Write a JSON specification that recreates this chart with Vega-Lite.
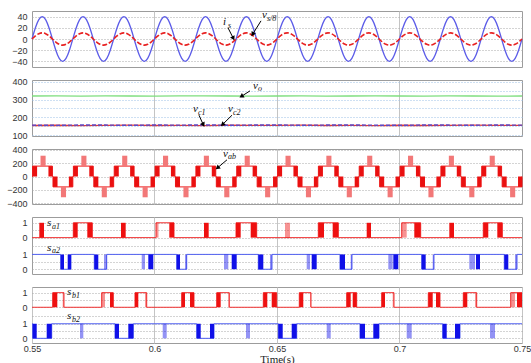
{
"$schema":"https://vega.github.io/schema/vega-lite/v6.json",
"padding":{"left":4,"top":8,"right":5,"bottom":0},
"spacing":13,
"bounds":"flush",
"config":{"view":{"stroke":"#9c9c9c","strokeWidth":1},"axis":{"labelFont":"Liberation Sans","labelFontSize":9,"labelColor":"#333333","labelOverlap":false}},
"datasets":{
"ac":[
{"t":0.55,"v":0,"i":0},{"t":0.55139,"v":20,"i":5.5},{"t":0.55278,"v":34.64,"i":9.53},{"t":0.55417,"v":40,"i":11},{"t":0.55556,"v":34.64,"i":9.53},{"t":0.55694,"v":20,"i":5.5},{"t":0.55833,"v":0,"i":0},{"t":0.55972,"v":-20,"i":-5.5},{"t":0.56111,"v":-34.64,"i":-9.53},{"t":0.5625,"v":-40,"i":-11},{"t":0.56389,"v":-34.64,"i":-9.53},{"t":0.56528,"v":-20,"i":-5.5},
{"t":0.56667,"v":0,"i":0},{"t":0.56806,"v":20,"i":5.5},{"t":0.56944,"v":34.64,"i":9.53},{"t":0.57083,"v":40,"i":11},{"t":0.57222,"v":34.64,"i":9.53},{"t":0.57361,"v":20,"i":5.5},{"t":0.575,"v":0,"i":0},{"t":0.57639,"v":-20,"i":-5.5},{"t":0.57778,"v":-34.64,"i":-9.53},{"t":0.57917,"v":-40,"i":-11},{"t":0.58056,"v":-34.64,"i":-9.53},{"t":0.58194,"v":-20,"i":-5.5},
{"t":0.58333,"v":0,"i":0},{"t":0.58472,"v":20,"i":5.5},{"t":0.58611,"v":34.64,"i":9.53},{"t":0.5875,"v":40,"i":11},{"t":0.58889,"v":34.64,"i":9.53},{"t":0.59028,"v":20,"i":5.5},{"t":0.59167,"v":0,"i":0},{"t":0.59306,"v":-20,"i":-5.5},{"t":0.59444,"v":-34.64,"i":-9.53},{"t":0.59583,"v":-40,"i":-11},{"t":0.59722,"v":-34.64,"i":-9.53},{"t":0.59861,"v":-20,"i":-5.5},
{"t":0.6,"v":0,"i":0},{"t":0.60139,"v":20,"i":5.5},{"t":0.60278,"v":34.64,"i":9.53},{"t":0.60417,"v":40,"i":11},{"t":0.60556,"v":34.64,"i":9.53},{"t":0.60694,"v":20,"i":5.5},{"t":0.60833,"v":0,"i":0},{"t":0.60972,"v":-20,"i":-5.5},{"t":0.61111,"v":-34.64,"i":-9.53},{"t":0.6125,"v":-40,"i":-11},{"t":0.61389,"v":-34.64,"i":-9.53},{"t":0.61528,"v":-20,"i":-5.5},
{"t":0.61667,"v":0,"i":0},{"t":0.61806,"v":20,"i":5.5},{"t":0.61944,"v":34.64,"i":9.53},{"t":0.62083,"v":40,"i":11},{"t":0.62222,"v":34.64,"i":9.53},{"t":0.62361,"v":20,"i":5.5},{"t":0.625,"v":0,"i":0},{"t":0.62639,"v":-20,"i":-5.5},{"t":0.62778,"v":-34.64,"i":-9.53},{"t":0.62917,"v":-40,"i":-11},{"t":0.63056,"v":-34.64,"i":-9.53},{"t":0.63194,"v":-20,"i":-5.5},
{"t":0.63333,"v":0,"i":0},{"t":0.63472,"v":20,"i":5.5},{"t":0.63611,"v":34.64,"i":9.53},{"t":0.6375,"v":40,"i":11},{"t":0.63889,"v":34.64,"i":9.53},{"t":0.64028,"v":20,"i":5.5},{"t":0.64167,"v":0,"i":0},{"t":0.64306,"v":-20,"i":-5.5},{"t":0.64444,"v":-34.64,"i":-9.53},{"t":0.64583,"v":-40,"i":-11},{"t":0.64722,"v":-34.64,"i":-9.53},{"t":0.64861,"v":-20,"i":-5.5},
{"t":0.65,"v":0,"i":0},{"t":0.65139,"v":20,"i":5.5},{"t":0.65278,"v":34.64,"i":9.53},{"t":0.65417,"v":40,"i":11},{"t":0.65556,"v":34.64,"i":9.53},{"t":0.65694,"v":20,"i":5.5},{"t":0.65833,"v":0,"i":0},{"t":0.65972,"v":-20,"i":-5.5},{"t":0.66111,"v":-34.64,"i":-9.53},{"t":0.6625,"v":-40,"i":-11},{"t":0.66389,"v":-34.64,"i":-9.53},{"t":0.66528,"v":-20,"i":-5.5},
{"t":0.66667,"v":0,"i":0},{"t":0.66806,"v":20,"i":5.5},{"t":0.66944,"v":34.64,"i":9.53},{"t":0.67083,"v":40,"i":11},{"t":0.67222,"v":34.64,"i":9.53},{"t":0.67361,"v":20,"i":5.5},{"t":0.675,"v":0,"i":0},{"t":0.67639,"v":-20,"i":-5.5},{"t":0.67778,"v":-34.64,"i":-9.53},{"t":0.67917,"v":-40,"i":-11},{"t":0.68056,"v":-34.64,"i":-9.53},{"t":0.68194,"v":-20,"i":-5.5},
{"t":0.68333,"v":0,"i":0},{"t":0.68472,"v":20,"i":5.5},{"t":0.68611,"v":34.64,"i":9.53},{"t":0.6875,"v":40,"i":11},{"t":0.68889,"v":34.64,"i":9.53},{"t":0.69028,"v":20,"i":5.5},{"t":0.69167,"v":0,"i":0},{"t":0.69306,"v":-20,"i":-5.5},{"t":0.69444,"v":-34.64,"i":-9.53},{"t":0.69583,"v":-40,"i":-11},{"t":0.69722,"v":-34.64,"i":-9.53},{"t":0.69861,"v":-20,"i":-5.5},
{"t":0.7,"v":0,"i":0},{"t":0.70139,"v":20,"i":5.5},{"t":0.70278,"v":34.64,"i":9.53},{"t":0.70417,"v":40,"i":11},{"t":0.70556,"v":34.64,"i":9.53},{"t":0.70694,"v":20,"i":5.5},{"t":0.70833,"v":0,"i":0},{"t":0.70972,"v":-20,"i":-5.5},{"t":0.71111,"v":-34.64,"i":-9.53},{"t":0.7125,"v":-40,"i":-11},{"t":0.71389,"v":-34.64,"i":-9.53},{"t":0.71528,"v":-20,"i":-5.5},
{"t":0.71667,"v":0,"i":0},{"t":0.71806,"v":20,"i":5.5},{"t":0.71944,"v":34.64,"i":9.53},{"t":0.72083,"v":40,"i":11},{"t":0.72222,"v":34.64,"i":9.53},{"t":0.72361,"v":20,"i":5.5},{"t":0.725,"v":0,"i":0},{"t":0.72639,"v":-20,"i":-5.5},{"t":0.72778,"v":-34.64,"i":-9.53},{"t":0.72917,"v":-40,"i":-11},{"t":0.73056,"v":-34.64,"i":-9.53},{"t":0.73194,"v":-20,"i":-5.5},
{"t":0.73333,"v":0,"i":0},{"t":0.73472,"v":20,"i":5.5},{"t":0.73611,"v":34.64,"i":9.53},{"t":0.7375,"v":40,"i":11},{"t":0.73889,"v":34.64,"i":9.53},{"t":0.74028,"v":20,"i":5.5},{"t":0.74167,"v":0,"i":0},{"t":0.74306,"v":-20,"i":-5.5},{"t":0.74444,"v":-34.64,"i":-9.53},{"t":0.74583,"v":-40,"i":-11},{"t":0.74722,"v":-34.64,"i":-9.53},{"t":0.74861,"v":-20,"i":-5.5},
{"t":0.75,"v":0,"i":0}
],
"dc":[
{"t":0.55,"vo":320,"c1":154,"c2":156},{"t":0.56,"vo":321,"c1":155.5,"c2":155},{"t":0.57,"vo":319.5,"c1":153.5,"c2":157},{"t":0.58,"vo":320.5,"c1":155,"c2":156.5},{"t":0.59,"vo":320,"c1":156,"c2":155},{"t":0.6,"vo":319,"c1":154,"c2":157},{"t":0.61,"vo":320.5,"c1":155,"c2":156},{"t":0.62,"vo":321,"c1":153.5,"c2":157.5},{"t":0.63,"vo":320,"c1":155.5,"c2":155.5},{"t":0.64,"vo":319.5,"c1":154.5,"c2":156.5},{"t":0.65,"vo":320,"c1":155,"c2":157},{"t":0.66,"vo":320.5,"c1":156,"c2":155.5},{"t":0.67,"vo":319.5,"c1":154,"c2":156.5},{"t":0.68,"vo":320,"c1":155,"c2":157},{"t":0.69,"vo":321,"c1":153.5,"c2":156},{"t":0.7,"vo":320,"c1":155.5,"c2":155},{"t":0.71,"vo":319.5,"c1":154,"c2":157},{"t":0.72,"vo":320.5,"c1":155,"c2":156.5},{"t":0.73,"vo":320,"c1":156,"c2":155.5},{"t":0.74,"vo":319,"c1":154.5,"c2":157},{"t":0.75,"vo":320,"c1":155,"c2":156}
],
"vl":[
{"t":0.55,"v":0},{"t":0.55023,"v":155},{"t":0.55833,"v":0},{"t":0.55856,"v":-155},
{"t":0.56667,"v":0},{"t":0.5669,"v":155},{"t":0.575,"v":0},{"t":0.57523,"v":-155},
{"t":0.58333,"v":0},{"t":0.58356,"v":155},{"t":0.59167,"v":0},{"t":0.5919,"v":-155},
{"t":0.6,"v":0},{"t":0.60023,"v":155},{"t":0.60833,"v":0},{"t":0.60856,"v":-155},
{"t":0.61667,"v":0},{"t":0.6169,"v":155},{"t":0.625,"v":0},{"t":0.62523,"v":-155},
{"t":0.63333,"v":0},{"t":0.63356,"v":155},{"t":0.64167,"v":0},{"t":0.6419,"v":-155},
{"t":0.65,"v":0},{"t":0.65023,"v":155},{"t":0.65833,"v":0},{"t":0.65856,"v":-155},
{"t":0.66667,"v":0},{"t":0.6669,"v":155},{"t":0.675,"v":0},{"t":0.67523,"v":-155},
{"t":0.68333,"v":0},{"t":0.68356,"v":155},{"t":0.69167,"v":0},{"t":0.6919,"v":-155},
{"t":0.7,"v":0},{"t":0.70023,"v":155},{"t":0.70833,"v":0},{"t":0.70856,"v":-155},
{"t":0.71667,"v":0},{"t":0.7169,"v":155},{"t":0.725,"v":0},{"t":0.72523,"v":-155},
{"t":0.73333,"v":0},{"t":0.73356,"v":155},{"t":0.74167,"v":0},{"t":0.7419,"v":-155},
{"t":0.75,"v":0}
],
"vb":[
{"a":0.55023,"b":0.55208,"lo":0,"hi":155,"k":"i"},{"a":0.55347,"b":0.55556,"lo":155,"hi":310,"k":"o"},{"a":0.55671,"b":0.55833,"lo":0,"hi":155,"k":"i"},{"a":0.55856,"b":0.56042,"lo":-155,"hi":0,"k":"i"},{"a":0.56181,"b":0.56389,"lo":-310,"hi":-155,"k":"o"},{"a":0.56505,"b":0.56667,"lo":-155,"hi":0,"k":"i"},
{"a":0.5669,"b":0.56875,"lo":0,"hi":155,"k":"i"},{"a":0.57014,"b":0.57222,"lo":155,"hi":310,"k":"o"},{"a":0.57338,"b":0.575,"lo":0,"hi":155,"k":"i"},{"a":0.57523,"b":0.57708,"lo":-155,"hi":0,"k":"i"},{"a":0.57847,"b":0.58056,"lo":-310,"hi":-155,"k":"o"},{"a":0.58171,"b":0.58333,"lo":-155,"hi":0,"k":"i"},
{"a":0.58356,"b":0.58542,"lo":0,"hi":155,"k":"i"},{"a":0.58681,"b":0.58889,"lo":155,"hi":310,"k":"o"},{"a":0.59005,"b":0.59167,"lo":0,"hi":155,"k":"i"},{"a":0.5919,"b":0.59375,"lo":-155,"hi":0,"k":"i"},{"a":0.59514,"b":0.59722,"lo":-310,"hi":-155,"k":"o"},{"a":0.59838,"b":0.6,"lo":-155,"hi":0,"k":"i"},
{"a":0.60023,"b":0.60208,"lo":0,"hi":155,"k":"i"},{"a":0.60347,"b":0.60556,"lo":155,"hi":310,"k":"o"},{"a":0.60671,"b":0.60833,"lo":0,"hi":155,"k":"i"},{"a":0.60856,"b":0.61042,"lo":-155,"hi":0,"k":"i"},{"a":0.61181,"b":0.61389,"lo":-310,"hi":-155,"k":"o"},{"a":0.61505,"b":0.61667,"lo":-155,"hi":0,"k":"i"},
{"a":0.6169,"b":0.61875,"lo":0,"hi":155,"k":"i"},{"a":0.62014,"b":0.62222,"lo":155,"hi":310,"k":"o"},{"a":0.62338,"b":0.625,"lo":0,"hi":155,"k":"i"},{"a":0.62523,"b":0.62708,"lo":-155,"hi":0,"k":"i"},{"a":0.62847,"b":0.63056,"lo":-310,"hi":-155,"k":"o"},{"a":0.63171,"b":0.63333,"lo":-155,"hi":0,"k":"i"},
{"a":0.63356,"b":0.63542,"lo":0,"hi":155,"k":"i"},{"a":0.63681,"b":0.63889,"lo":155,"hi":310,"k":"o"},{"a":0.64005,"b":0.64167,"lo":0,"hi":155,"k":"i"},{"a":0.6419,"b":0.64375,"lo":-155,"hi":0,"k":"i"},{"a":0.64514,"b":0.64722,"lo":-310,"hi":-155,"k":"o"},{"a":0.64838,"b":0.65,"lo":-155,"hi":0,"k":"i"},
{"a":0.65023,"b":0.65208,"lo":0,"hi":155,"k":"i"},{"a":0.65347,"b":0.65556,"lo":155,"hi":310,"k":"o"},{"a":0.65671,"b":0.65833,"lo":0,"hi":155,"k":"i"},{"a":0.65856,"b":0.66042,"lo":-155,"hi":0,"k":"i"},{"a":0.66181,"b":0.66389,"lo":-310,"hi":-155,"k":"o"},{"a":0.66505,"b":0.66667,"lo":-155,"hi":0,"k":"i"},
{"a":0.6669,"b":0.66875,"lo":0,"hi":155,"k":"i"},{"a":0.67014,"b":0.67222,"lo":155,"hi":310,"k":"o"},{"a":0.67338,"b":0.675,"lo":0,"hi":155,"k":"i"},{"a":0.67523,"b":0.67708,"lo":-155,"hi":0,"k":"i"},{"a":0.67847,"b":0.68056,"lo":-310,"hi":-155,"k":"o"},{"a":0.68171,"b":0.68333,"lo":-155,"hi":0,"k":"i"},
{"a":0.68356,"b":0.68542,"lo":0,"hi":155,"k":"i"},{"a":0.68681,"b":0.68889,"lo":155,"hi":310,"k":"o"},{"a":0.69005,"b":0.69167,"lo":0,"hi":155,"k":"i"},{"a":0.6919,"b":0.69375,"lo":-155,"hi":0,"k":"i"},{"a":0.69514,"b":0.69722,"lo":-310,"hi":-155,"k":"o"},{"a":0.69838,"b":0.7,"lo":-155,"hi":0,"k":"i"},
{"a":0.70023,"b":0.70208,"lo":0,"hi":155,"k":"i"},{"a":0.70347,"b":0.70556,"lo":155,"hi":310,"k":"o"},{"a":0.70671,"b":0.70833,"lo":0,"hi":155,"k":"i"},{"a":0.70856,"b":0.71042,"lo":-155,"hi":0,"k":"i"},{"a":0.71181,"b":0.71389,"lo":-310,"hi":-155,"k":"o"},{"a":0.71505,"b":0.71667,"lo":-155,"hi":0,"k":"i"},
{"a":0.7169,"b":0.71875,"lo":0,"hi":155,"k":"i"},{"a":0.72014,"b":0.72222,"lo":155,"hi":310,"k":"o"},{"a":0.72338,"b":0.725,"lo":0,"hi":155,"k":"i"},{"a":0.72523,"b":0.72708,"lo":-155,"hi":0,"k":"i"},{"a":0.72847,"b":0.73056,"lo":-310,"hi":-155,"k":"o"},{"a":0.73171,"b":0.73333,"lo":-155,"hi":0,"k":"i"},
{"a":0.73356,"b":0.73542,"lo":0,"hi":155,"k":"i"},{"a":0.73681,"b":0.73889,"lo":155,"hi":310,"k":"o"},{"a":0.74005,"b":0.74167,"lo":0,"hi":155,"k":"i"},{"a":0.7419,"b":0.74375,"lo":-155,"hi":0,"k":"i"},{"a":0.74514,"b":0.74722,"lo":-310,"hi":-155,"k":"o"},{"a":0.74838,"b":0.75,"lo":-155,"hi":0,"k":"i"}
],
"gl":[
{"sig":"sa1","t":0.55,"s":0},{"sig":"sa1","t":0.56686,"s":1},{"sig":"sa1","t":0.57461,"s":0},{"sig":"sa1","t":0.60061,"s":1},{"sig":"sa1","t":0.60796,"s":0},{"sig":"sa1","t":0.63327,"s":1},{"sig":"sa1","t":0.64171,"s":0},{"sig":"sa1","t":0.66686,"s":1},{"sig":"sa1","t":0.67502,"s":0},{"sig":"sa1","t":0.7009,"s":1},{"sig":"sa1","t":0.70865,"s":0},{"sig":"sa1","t":0.7342,"s":1},{"sig":"sa1","t":0.74196,"s":0},{"sig":"sa1","t":0.75,"s":0},
{"sig":"sa2","t":0.55,"s":1},{"sig":"sa2","t":0.56171,"s":0},{"sig":"sa2","t":0.56592,"s":1},{"sig":"sa2","t":0.57543,"s":0},{"sig":"sa2","t":0.58049,"s":1},{"sig":"sa2","t":0.60906,"s":0},{"sig":"sa2","t":0.61314,"s":1},{"sig":"sa2","t":0.64237,"s":0},{"sig":"sa2","t":0.64796,"s":1},{"sig":"sa2","t":0.67571,"s":0},{"sig":"sa2","t":0.68061,"s":1},{"sig":"sa2","t":0.70906,"s":0},{"sig":"sa2","t":0.71408,"s":1},{"sig":"sa2","t":0.74278,"s":0},{"sig":"sa2","t":0.74796,"s":1},{"sig":"sa2","t":0.75,"s":1},
{"sig":"sb1","t":0.55,"s":0},{"sig":"sb1","t":0.55845,"s":1},{"sig":"sb1","t":0.56306,"s":0},{"sig":"sb1","t":0.57845,"s":1},{"sig":"sb1","t":0.58318,"s":0},{"sig":"sb1","t":0.59204,"s":1},{"sig":"sb1","t":0.59682,"s":0},{"sig":"sb1","t":0.6111,"s":1},{"sig":"sb1","t":0.61612,"s":0},{"sig":"sb1","t":0.62539,"s":1},{"sig":"sb1","t":0.63053,"s":0},{"sig":"sb1","t":0.64441,"s":1},{"sig":"sb1","t":0.64988,"s":0},{"sig":"sb1","t":0.6591,"s":1},{"sig":"sb1","t":0.66388,"s":0},{"sig":"sb1","t":0.67845,"s":1},{"sig":"sb1","t":0.68253,"s":0},{"sig":"sb1","t":0.69273,"s":1},{"sig":"sb1","t":0.69776,"s":0},{"sig":"sb1","t":0.71176,"s":1},{"sig":"sb1","t":0.71653,"s":0},{"sig":"sb1","t":0.72604,"s":1},{"sig":"sb1","t":0.73151,"s":0},{"sig":"sb1","t":0.74539,"s":1},{"sig":"sb1","t":0.75,"s":1},
{"sig":"sb2","t":0.55,"s":1},{"sig":"sb2","t":0.55029,"s":0},{"sig":"sb2","t":0.55804,"s":1},{"sig":"sb2","t":0.58388,"s":0},{"sig":"sb2","t":0.59135,"s":1},{"sig":"sb2","t":0.61722,"s":0},{"sig":"sb2","t":0.62429,"s":1},{"sig":"sb2","t":0.65053,"s":0},{"sig":"sb2","t":0.65804,"s":1},{"sig":"sb2","t":0.68388,"s":0},{"sig":"sb2","t":0.69163,"s":1},{"sig":"sb2","t":0.71763,"s":0},{"sig":"sb2","t":0.72469,"s":1},{"sig":"sb2","t":0.75,"s":1}
],
"gb":[
{"sig":"sa1","a":0.55298,"b":0.5549,"k":"d"},{"sig":"sa1","a":0.56686,"b":0.56865,"k":"d"},{"sig":"sa1","a":0.57257,"b":0.57461,"k":"d"},{"sig":"sa1","a":0.58633,"b":0.58824,"k":"d"},{"sig":"sa1","a":0.60061,"b":0.60163,"k":"l"},{"sig":"sa1","a":0.60604,"b":0.60796,"k":"d"},{"sig":"sa1","a":0.6202,"b":0.62212,"k":"d"},{"sig":"sa1","a":0.63327,"b":0.63518,"k":"d"},{"sig":"sa1","a":0.63927,"b":0.64171,"k":"d"},{"sig":"sa1","a":0.65327,"b":0.65531,"k":"l"},{"sig":"sa1","a":0.66686,"b":0.66918,"k":"d"},{"sig":"sa1","a":0.67273,"b":0.67502,"k":"d"},{"sig":"sa1","a":0.68661,"b":0.68837,"k":"d"},{"sig":"sa1","a":0.7009,"b":0.70294,"k":"l"},{"sig":"sa1","a":0.70604,"b":0.70865,"k":"d"},{"sig":"sa1","a":0.72033,"b":0.72224,"k":"d"},{"sig":"sa1","a":0.7342,"b":0.73624,"k":"d"},{"sig":"sa1","a":0.73992,"b":0.74196,"k":"d"},
{"sig":"sa2","a":0.56171,"b":0.56306,"k":"d"},{"sig":"sa2","a":0.56457,"b":0.56592,"k":"d"},{"sig":"sa2","a":0.57543,"b":0.57706,"k":"d"},{"sig":"sa2","a":0.57939,"b":0.58049,"k":"l"},{"sig":"sa2","a":0.59478,"b":0.59612,"k":"l"},{"sig":"sa2","a":0.59747,"b":0.59951,"k":"d"},{"sig":"sa2","a":0.60906,"b":0.61041,"k":"d"},{"sig":"sa2","a":0.61245,"b":0.61314,"k":"l"},{"sig":"sa2","a":0.62837,"b":0.63012,"k":"l"},{"sig":"sa2","a":0.63151,"b":0.63355,"k":"d"},{"sig":"sa2","a":0.64237,"b":0.64441,"k":"d"},{"sig":"sa2","a":0.64714,"b":0.64796,"k":"l"},{"sig":"sa2","a":0.66212,"b":0.66347,"k":"l"},{"sig":"sa2","a":0.66416,"b":0.6662,"k":"d"},{"sig":"sa2","a":0.67571,"b":0.67776,"k":"d"},{"sig":"sa2","a":0.68008,"b":0.68061,"k":"l"},{"sig":"sa2","a":0.69543,"b":0.69722,"k":"l"},{"sig":"sa2","a":0.69747,"b":0.69951,"k":"d"},{"sig":"sa2","a":0.70906,"b":0.71069,"k":"d"},{"sig":"sa2","a":0.71355,"b":0.71408,"k":"l"},{"sig":"sa2","a":0.72849,"b":0.73082,"k":"l"},{"sig":"sa2","a":0.73122,"b":0.73286,"k":"d"},{"sig":"sa2","a":0.74278,"b":0.74441,"k":"d"},{"sig":"sa2","a":0.74714,"b":0.74796,"k":"l"},
{"sig":"sb1","a":0.55845,"b":0.56033,"k":"d"},{"sig":"sb1","a":0.56253,"b":0.56306,"k":"l"},{"sig":"sb1","a":0.57845,"b":0.5798,"k":"l"},{"sig":"sb1","a":0.58184,"b":0.58318,"k":"d"},{"sig":"sb1","a":0.59204,"b":0.59339,"k":"d"},{"sig":"sb1","a":0.59612,"b":0.59682,"k":"l"},{"sig":"sb1","a":0.6111,"b":0.61245,"k":"d"},{"sig":"sb1","a":0.61449,"b":0.61612,"k":"d"},{"sig":"sb1","a":0.62539,"b":0.62702,"k":"d"},{"sig":"sb1","a":0.63012,"b":0.63053,"k":"l"},{"sig":"sb1","a":0.64441,"b":0.64604,"k":"d"},{"sig":"sb1","a":0.64784,"b":0.64988,"k":"d"},{"sig":"sb1","a":0.6591,"b":0.66073,"k":"d"},{"sig":"sb1","a":0.66347,"b":0.66388,"k":"l"},{"sig":"sb1","a":0.67845,"b":0.68008,"k":"d"},{"sig":"sb1","a":0.6809,"b":0.68253,"k":"d"},{"sig":"sb1","a":0.69273,"b":0.69408,"k":"d"},{"sig":"sb1","a":0.69722,"b":0.69776,"k":"l"},{"sig":"sb1","a":0.71176,"b":0.71355,"k":"d"},{"sig":"sb1","a":0.7149,"b":0.71653,"k":"d"},{"sig":"sb1","a":0.72604,"b":0.72767,"k":"d"},{"sig":"sb1","a":0.73082,"b":0.73151,"k":"l"},{"sig":"sb1","a":0.74539,"b":0.74714,"k":"l"},{"sig":"sb1","a":0.74796,"b":0.75,"k":"d"},
{"sig":"sb2","a":0.55029,"b":0.55192,"k":"d"},{"sig":"sb2","a":0.556,"b":0.55804,"k":"d"},{"sig":"sb2","a":0.56959,"b":0.57094,"k":"l"},{"sig":"sb2","a":0.58388,"b":0.58551,"k":"d"},{"sig":"sb2","a":0.58931,"b":0.59135,"k":"d"},{"sig":"sb2","a":0.60335,"b":0.60498,"k":"l"},{"sig":"sb2","a":0.61722,"b":0.61886,"k":"d"},{"sig":"sb2","a":0.62265,"b":0.62429,"k":"d"},{"sig":"sb2","a":0.63735,"b":0.63898,"k":"l"},{"sig":"sb2","a":0.65053,"b":0.65233,"k":"d"},{"sig":"sb2","a":0.656,"b":0.65804,"k":"d"},{"sig":"sb2","a":0.67029,"b":0.67192,"k":"l"},{"sig":"sb2","a":0.68388,"b":0.68592,"k":"d"},{"sig":"sb2","a":0.68931,"b":0.69163,"k":"d"},{"sig":"sb2","a":0.70294,"b":0.70498,"k":"l"},{"sig":"sb2","a":0.71763,"b":0.71927,"k":"d"},{"sig":"sb2","a":0.72265,"b":0.72469,"k":"d"},{"sig":"sb2","a":0.73694,"b":0.73898,"k":"l"}
],
"nt":[
{"p":1,"t":0.62796,"y":25,"m":"i","s":"s"},{"p":1,"t":0.64388,"y":37.5,"m":"v","s":"s/8"},
{"p":2,"t":0.6402,"y":360,"m":"v","s":"o"},{"p":2,"t":0.61571,"y":229,"m":"v","s":"c1"},{"p":2,"t":0.63,"y":229,"m":"v","s":"c2"},
{"p":3,"t":0.62796,"y":298,"m":"v","s":"ab"},
{"p":4,"t":0.55612,"y":2.91,"m":"s","s":"a1"},{"p":4,"t":0.55612,"y":1.23,"m":"s","s":"a2"},
{"p":5,"t":0.56429,"y":2.97,"m":"s","s":"b1"},{"p":5,"t":0.56429,"y":1.32,"m":"s","s":"b2"}
],
"ar":[
{"p":1,"t":0.63,"y":20,"t2":0.63204,"y2":2.4,"ang":153},{"p":1,"t":0.64347,"y":32.4,"t2":0.6402,"y2":9.5,"ang":212},
{"p":2,"t":0.63898,"y":349,"t2":0.63571,"y2":320,"ang":238},{"p":2,"t":0.61816,"y":212,"t2":0.6198,"y2":162,"ang":153},{"p":2,"t":0.63163,"y":212,"t2":0.62796,"y2":162,"ang":228},
{"p":3,"t":0.62959,"y":249,"t2":0.62592,"y2":135,"ang":232}
]
},
"vconcat":[
{"width":490,"height":56,
 "encoding":{"x":{"field":"t","type":"quantitative","title":null,"scale":{"domain":[0.55,0.75],"nice":false,"zero":false},"axis":{"values":[0.6,0.65,0.7],"tickCount":20,"labels":false,"ticks":false,"domain":false,"grid":true,"gridColor":"#c4c4c4"}}},
 "layer":[
  {"data":{"name":"ac"},"mark":{"type":"line","color":"#5c5ce8","strokeWidth":1.3,"interpolate":"natural"},"encoding":{"y":{"field":"v","type":"quantitative","title":null,"scale":{"domain":[-50,50],"nice":false,"zero":false},"axis":{"values":[-40,-20,0,20,40],"tickCount":20,"labelOverlap":false,"ticks":false,"domain":false,"grid":true,"gridDash":[1,2],"gridColor":"#a8a8a8","labelPadding":5,"minExtent":27,"maxExtent":27}}}},
  {"data":{"name":"ac"},"mark":{"type":"line","color":"#e82222","strokeWidth":1.6,"strokeDash":[5,2],"interpolate":"natural"},"encoding":{"y":{"field":"i","type":"quantitative","title":null}}},
  {"data":{"name":"ar"},"transform":[{"filter":"datum.p==1"}],"mark":{"type":"rule","color":"#000000","strokeWidth":1},"encoding":{"y":{"field":"y","type":"quantitative","title":null},"x2":{"field":"t2"},"y2":{"field":"y2"}}},
  {"data":{"name":"ar"},"transform":[{"filter":"datum.p==1"}],"mark":{"type":"point","shape":"triangle","filled":true,"color":"#000000","size":26,"opacity":1},"encoding":{"x":{"field":"t2","type":"quantitative","title":null},"y":{"field":"y2","type":"quantitative","title":null},"angle":{"field":"ang","type":"quantitative","scale":null}}},
  {"data":{"name":"nt"},"transform":[{"filter":"datum.p==1"}],"mark":{"type":"text","font":"Liberation Serif","fontStyle":"italic","fontSize":11,"align":"left","baseline":"alphabetic","color":"#111111"},"encoding":{"y":{"field":"y","type":"quantitative","title":null},"text":{"field":"m"}}},
  {"data":{"name":"nt"},"transform":[{"filter":"datum.p==1"}],"mark":{"type":"text","font":"Liberation Serif","fontStyle":"italic","fontSize":8,"align":"left","baseline":"alphabetic","dx":5,"dy":2.5,"color":"#111111"},"encoding":{"y":{"field":"y","type":"quantitative","title":null},"text":{"field":"s"}}}
 ]},
{"width":490,"height":56,
 "encoding":{"x":{"field":"t","type":"quantitative","title":null,"scale":{"domain":[0.55,0.75],"nice":false,"zero":false},"axis":{"values":[0.6,0.65,0.7],"tickCount":20,"labels":false,"ticks":false,"domain":false,"grid":true,"gridColor":"#c4c4c4"}}},
 "layer":[
  {"data":{"name":"dc"},"mark":{"type":"line","color":"#7ede7e","strokeWidth":1.3},"encoding":{"y":{"field":"vo","type":"quantitative","title":null,"scale":{"domain":[95,410],"nice":false,"zero":false},"axis":{"values":[100,150,200,250,300,350,400],"tickCount":20,"labelExpr":"datum.value % 100 == 0 ? datum.label : ''","labelOverlap":false,"ticks":false,"domain":false,"grid":true,"gridDash":[1,2],"gridColor":"#9cc0e6","labelPadding":5,"minExtent":27,"maxExtent":27}}}},
  {"data":{"name":"dc"},"mark":{"type":"line","color":"#e03a3a","strokeWidth":1.4},"encoding":{"y":{"field":"c1","type":"quantitative","title":null}}},
  {"data":{"name":"dc"},"mark":{"type":"line","color":"#5a4ac8","strokeWidth":1.4,"strokeDash":[4,2]},"encoding":{"y":{"field":"c2","type":"quantitative","title":null}}},
  {"data":{"name":"ar"},"transform":[{"filter":"datum.p==2"}],"mark":{"type":"rule","color":"#000000","strokeWidth":1},"encoding":{"y":{"field":"y","type":"quantitative","title":null},"x2":{"field":"t2"},"y2":{"field":"y2"}}},
  {"data":{"name":"ar"},"transform":[{"filter":"datum.p==2"}],"mark":{"type":"point","shape":"triangle","filled":true,"color":"#000000","size":26,"opacity":1},"encoding":{"x":{"field":"t2","type":"quantitative","title":null},"y":{"field":"y2","type":"quantitative","title":null},"angle":{"field":"ang","type":"quantitative","scale":null}}},
  {"data":{"name":"nt"},"transform":[{"filter":"datum.p==2"}],"mark":{"type":"text","font":"Liberation Serif","fontStyle":"italic","fontSize":11,"align":"left","baseline":"alphabetic","color":"#111111"},"encoding":{"y":{"field":"y","type":"quantitative","title":null},"text":{"field":"m"}}},
  {"data":{"name":"nt"},"transform":[{"filter":"datum.p==2"}],"mark":{"type":"text","font":"Liberation Serif","fontStyle":"italic","fontSize":8,"align":"left","baseline":"alphabetic","dx":5,"dy":2.5,"color":"#111111"},"encoding":{"y":{"field":"y","type":"quantitative","title":null},"text":{"field":"s"}}}
 ]},
{"width":490,"height":55,
 "encoding":{"x":{"field":"t","type":"quantitative","title":null,"scale":{"domain":[0.55,0.75],"nice":false,"zero":false},"axis":{"values":[0.6,0.65,0.7],"tickCount":20,"labels":false,"ticks":false,"domain":false,"grid":true,"gridColor":"#c4c4c4"}}},
 "layer":[
  {"data":{"name":"vl"},"mark":{"type":"line","color":"#ee1c1c","strokeWidth":1,"interpolate":"step-after"},"encoding":{"y":{"field":"v","type":"quantitative","title":null,"scale":{"domain":[-410,410],"nice":false,"zero":false},"axis":{"values":[-400,-200,0,200,400],"tickCount":20,"labelOverlap":false,"ticks":false,"domain":false,"grid":true,"gridDash":[1,2],"gridColor":"#a8a8a8","labelPadding":5,"minExtent":27,"maxExtent":27}}}},
  {"data":{"name":"vb"},"mark":{"type":"rect"},"encoding":{"x":{"field":"a","type":"quantitative","title":null},"x2":{"field":"b"},"y":{"field":"lo","type":"quantitative","title":null},"y2":{"field":"hi"},"color":{"field":"k","type":"nominal","scale":{"domain":["i","o"],"range":["#ea1010","#f27878"]},"legend":null}}},
  {"data":{"name":"ar"},"transform":[{"filter":"datum.p==3"}],"mark":{"type":"rule","color":"#000000","strokeWidth":1},"encoding":{"y":{"field":"y","type":"quantitative","title":null},"x2":{"field":"t2"},"y2":{"field":"y2"}}},
  {"data":{"name":"ar"},"transform":[{"filter":"datum.p==3"}],"mark":{"type":"point","shape":"triangle","filled":true,"color":"#000000","size":26,"opacity":1},"encoding":{"x":{"field":"t2","type":"quantitative","title":null},"y":{"field":"y2","type":"quantitative","title":null},"angle":{"field":"ang","type":"quantitative","scale":null}}},
  {"data":{"name":"nt"},"transform":[{"filter":"datum.p==3"}],"mark":{"type":"text","font":"Liberation Serif","fontStyle":"italic","fontSize":11,"align":"left","baseline":"alphabetic","color":"#111111"},"encoding":{"y":{"field":"y","type":"quantitative","title":null},"text":{"field":"m"}}},
  {"data":{"name":"nt"},"transform":[{"filter":"datum.p==3"}],"mark":{"type":"text","font":"Liberation Serif","fontStyle":"italic","fontSize":8,"align":"left","baseline":"alphabetic","dx":5,"dy":2.5,"color":"#111111"},"encoding":{"y":{"field":"y","type":"quantitative","title":null},"text":{"field":"s"}}}
 ]},
{"width":490,"height":57,
 "encoding":{"x":{"field":"t","type":"quantitative","title":null,"scale":{"domain":[0.55,0.75],"nice":false,"zero":false},"axis":{"values":[0.6,0.65,0.7],"tickCount":20,"labels":false,"ticks":false,"domain":false,"grid":true,"gridColor":"#c4c4c4"}}},
 "layer":[
  {"layer":[
   {"data":{"name":"gl"},"transform":[{"filter":"datum.sig=='sa1'"}],"mark":{"type":"line","interpolate":"step-after","color":"#f03030","strokeWidth":1},"encoding":{"y":{"field":"s","type":"quantitative","title":null,"scale":{"domain":[-2.45,1.39],"nice":false,"zero":false},"axis":null}}},
   {"data":{"name":"gb"},"transform":[{"filter":"datum.sig=='sa1'"}],"mark":{"type":"rect","color":"#ee1010"},"encoding":{"x":{"field":"a","type":"quantitative","title":null},"x2":{"field":"b"},"y":{"datum":0,"type":"quantitative","title":null},"y2":{"datum":1},"opacity":{"field":"k","type":"nominal","scale":{"domain":["d","l"],"range":[1,0.45]},"legend":null}}}
  ]},
  {"layer":[
   {"data":{"name":"gl"},"transform":[{"filter":"datum.sig=='sa2'"}],"mark":{"type":"line","interpolate":"step-after","color":"#5060f0","strokeWidth":1},"encoding":{"y":{"field":"s","type":"quantitative","title":null,"scale":{"domain":[-0.32,3.52],"nice":false,"zero":false},"axis":{"orient":"left","values":[0,0.5,1,1.565,2.13,2.63,3.13],"tickCount":20,"labelExpr":"datum.value==0?'0':datum.value==1?'1':datum.value==2.13?'0':datum.value==3.13?'1':''","labelOverlap":false,"ticks":false,"domain":false,"grid":true,"gridDash":[1,2],"gridColor":"#a8a8a8","labelPadding":5,"minExtent":27,"maxExtent":27}}}},
   {"data":{"name":"gb"},"transform":[{"filter":"datum.sig=='sa2'"}],"mark":{"type":"rect","color":"#1010e8"},"encoding":{"x":{"field":"a","type":"quantitative","title":null},"x2":{"field":"b"},"y":{"datum":0,"type":"quantitative","title":null},"y2":{"datum":1},"opacity":{"field":"k","type":"nominal","scale":{"domain":["d","l"],"range":[1,0.45]},"legend":null}}},
   {"data":{"name":"nt"},"transform":[{"filter":"datum.p==4"}],"mark":{"type":"text","font":"Liberation Serif","fontStyle":"italic","fontSize":11,"align":"left","baseline":"alphabetic","color":"#111111"},"encoding":{"y":{"field":"y","type":"quantitative","title":null},"text":{"field":"m"}}},
   {"data":{"name":"nt"},"transform":[{"filter":"datum.p==4"}],"mark":{"type":"text","font":"Liberation Serif","fontStyle":"italic","fontSize":8,"align":"left","baseline":"alphabetic","dx":5,"dy":2.5,"color":"#111111"},"encoding":{"y":{"field":"y","type":"quantitative","title":null},"text":{"field":"s"}}}
  ]}
 ],
 "resolve":{"scale":{"y":"independent"}}},
{"width":490,"height":56,
 "encoding":{"x":{"field":"t","type":"quantitative","title":"Time(s)","scale":{"domain":[0.55,0.75],"nice":false,"zero":false},"axis":{"values":[0.55,0.6,0.65,0.7,0.75],"tickCount":20,"format":".2~f","labelFlush":false,"labelOverlap":false,"ticks":false,"domain":false,"grid":true,"gridColor":"#c4c4c4","labelPadding":1,"titleFont":"Liberation Serif","titleFontSize":11,"titleFontWeight":"normal","titlePadding":0,"titleColor":"#222222"}}},
 "layer":[
  {"layer":[
   {"data":{"name":"gl"},"transform":[{"filter":"datum.sig=='sb1'"}],"mark":{"type":"line","interpolate":"step-after","color":"#f03030","strokeWidth":1},"encoding":{"y":{"field":"s","type":"quantitative","title":null,"scale":{"domain":[-2.45,1.39],"nice":false,"zero":false},"axis":null}}},
   {"data":{"name":"gb"},"transform":[{"filter":"datum.sig=='sb1'"}],"mark":{"type":"rect","color":"#ee1010"},"encoding":{"x":{"field":"a","type":"quantitative","title":"Time(s)"},"x2":{"field":"b"},"y":{"datum":0,"type":"quantitative","title":null},"y2":{"datum":1},"opacity":{"field":"k","type":"nominal","scale":{"domain":["d","l"],"range":[1,0.45]},"legend":null}}}
  ]},
  {"layer":[
   {"data":{"name":"gl"},"transform":[{"filter":"datum.sig=='sb2'"}],"mark":{"type":"line","interpolate":"step-after","color":"#5060f0","strokeWidth":1},"encoding":{"y":{"field":"s","type":"quantitative","title":null,"scale":{"domain":[-0.32,3.52],"nice":false,"zero":false},"axis":{"orient":"left","values":[0,0.5,1,1.565,2.13,2.63,3.13],"tickCount":20,"labelExpr":"datum.value==0?'0':datum.value==1?'1':datum.value==2.13?'0':datum.value==3.13?'1':''","labelOverlap":false,"ticks":false,"domain":false,"grid":true,"gridDash":[1,2],"gridColor":"#a8a8a8","labelPadding":5,"minExtent":27,"maxExtent":27}}}},
   {"data":{"name":"gb"},"transform":[{"filter":"datum.sig=='sb2'"}],"mark":{"type":"rect","color":"#1010e8"},"encoding":{"x":{"field":"a","type":"quantitative","title":"Time(s)"},"x2":{"field":"b"},"y":{"datum":0,"type":"quantitative","title":null},"y2":{"datum":1},"opacity":{"field":"k","type":"nominal","scale":{"domain":["d","l"],"range":[1,0.45]},"legend":null}}},
   {"data":{"name":"nt"},"transform":[{"filter":"datum.p==5"}],"mark":{"type":"text","font":"Liberation Serif","fontStyle":"italic","fontSize":11,"align":"left","baseline":"alphabetic","color":"#111111"},"encoding":{"y":{"field":"y","type":"quantitative","title":null},"text":{"field":"m"}}},
   {"data":{"name":"nt"},"transform":[{"filter":"datum.p==5"}],"mark":{"type":"text","font":"Liberation Serif","fontStyle":"italic","fontSize":8,"align":"left","baseline":"alphabetic","dx":5,"dy":2.5,"color":"#111111"},"encoding":{"y":{"field":"y","type":"quantitative","title":null},"text":{"field":"s"}}}
  ]}
 ],
 "resolve":{"scale":{"y":"independent"}}}
]
}
